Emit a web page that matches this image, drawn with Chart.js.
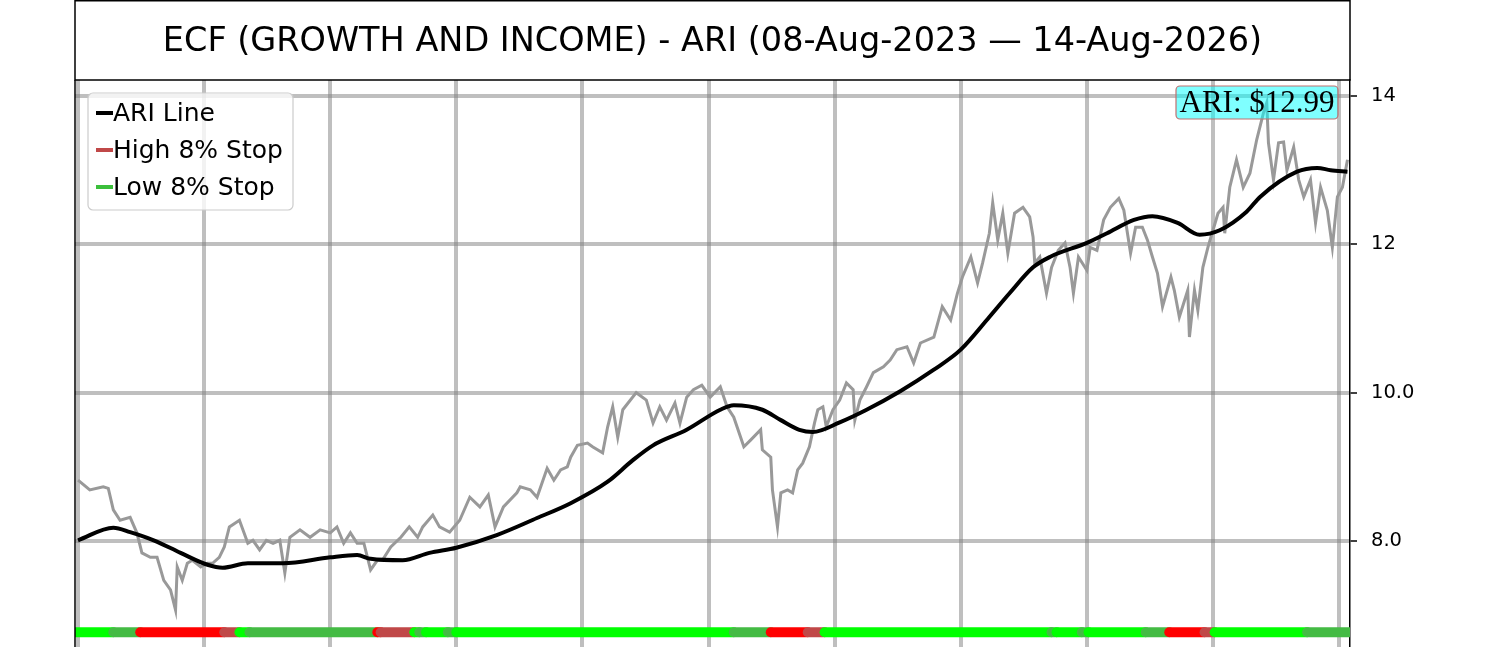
<!DOCTYPE html>
<html lang="en">
<head>
  <meta charset="UTF-8" />
  <title>ECF - ARI</title>
  <script src="https://cdn.jsdelivr.net/npm/chart.js"></script>
  <style>
    body { margin: 0; background: #fff; }
    canvas { display: block; }
  </style>
</head>
<body>
  <canvas id="ariChart" width="1500" height="647"></canvas>

  <script>
    // trading-day index and daily close (sampled off the chart)
    const priceDays = [0,7,15,18,21,25,31,35,38,43,47,51,55,58,59,62,65,68,73,77,80,84,87,90,96,101,104,108,112,116,120,123,126,132,138,144,150,154,158,162,166,170,174,178,181,186,192,197,202,205,211,215,221,227,233,239,244,248,253,261,263,269,273,279,283,287,291,293,297,303,306,312,315,318,321,324,332,338,342,346,350,355,358,362,366,371,376,382,386,390,396,400,406,407,412,413,416,418,422,425,428,431,435,438,440,443,445,449,453,457,461,462,465,469,473,479,483,487,493,497,501,509,514,519,523,526,531,535,538,542,544,547,550,553,557,562,566,568,569,572,576,579,583,587,590,592,595,600,602,606,610,614,619,622,626,629,633,636,639,642,645,650,652,655,660,661,664,666,669,672,675,678,681,682,685,689,693,697,701,705,707,708,711,714,717,719,723,726,729,733,736,739,743,746,749,752,755];
    const priceValues = [8.82,8.69,8.73,8.71,8.42,8.28,8.32,8.11,7.84,7.78,7.78,7.47,7.34,7.07,7.65,7.47,7.70,7.74,7.65,7.70,7.70,7.78,7.92,8.19,8.28,7.97,8.01,7.88,8.01,7.97,8.01,7.57,8.05,8.15,8.05,8.15,8.11,8.19,7.97,8.11,7.97,7.97,7.61,7.74,7.74,7.92,8.05,8.19,8.05,8.19,8.35,8.19,8.12,8.28,8.59,8.46,8.62,8.19,8.46,8.65,8.73,8.69,8.59,8.98,8.82,8.96,9.00,9.13,9.29,9.32,9.27,9.19,9.54,9.81,9.40,9.77,10.00,9.90,9.59,9.81,9.63,9.86,9.59,9.94,10.04,10.10,9.94,10.08,9.81,9.67,9.27,9.36,9.50,9.23,9.13,8.69,8.19,8.65,8.69,8.65,8.96,9.05,9.27,9.59,9.77,9.81,9.54,9.77,9.90,10.13,10.04,9.63,9.90,10.08,10.27,10.35,10.44,10.58,10.62,10.40,10.67,10.75,11.16,10.98,11.34,11.56,11.83,11.48,11.75,12.15,12.56,12.06,12.42,11.88,12.42,12.50,12.37,12.10,11.75,11.83,11.34,11.69,11.92,12.02,11.69,11.34,11.83,11.65,11.96,11.92,12.33,12.50,12.62,12.46,11.88,12.23,12.23,12.06,11.83,11.61,11.16,11.56,11.38,11.02,11.38,10.75,11.38,11.11,11.69,11.96,12.19,12.42,12.50,12.15,12.77,13.14,12.77,12.96,13.41,13.77,13.91,13.37,12.87,13.37,13.38,13.00,13.31,12.87,12.64,12.87,12.29,12.77,12.46,11.96,12.64,12.77,13.14];

    // ARI line (smoothed)
    const ariDays = [0,21,31,45,61,77,86,101,122,150,166,174,193,209,225,249,273,293,315,330,342,362,382,390,407,418,429,437,453,469,489,509,525,542,554,568,578,600,612,628,639,654,667,679,695,703,725,737,745,755];
    const ariValues = [8.01,8.18,8.12,8.01,7.84,7.68,7.64,7.70,7.70,7.78,7.81,7.76,7.74,7.84,7.91,8.08,8.31,8.51,8.80,9.09,9.29,9.50,9.77,9.83,9.77,9.63,9.50,9.47,9.60,9.77,10.02,10.31,10.58,11.02,11.34,11.69,11.83,12.02,12.15,12.33,12.38,12.29,12.13,12.19,12.44,12.64,12.98,13.03,13.00,12.98];

    // stop band: segment boundaries (days) and state of each segment
    const stopBreaks = [-4,21,37,87,96,102,178,180,200,203,207,220,225,390,412,434,444,579,582,597,601,635,649,670,676,731,760];
    const stopStates = ['lime','low','high','highEnd','lime','low','high','highEnd','lime','low','lime','low','lime','low','high','highEnd','lime','low','lime','low','lime','low','high','highEnd','lime','low'];
    const stopLevel = 6.77;
    const stopColors = { lime: '#00ff00', low: '#44bb44', high: '#ff0000', highEnd: '#c04848' };

    const yTicks = [8, 10, 12, 14];
    const yTickLabels = ['8.0', '10.0', '12', '14'];
    const xGridDays = Array.from({ length: 11 }, (_, i) => i * 75);

    const legendLabels = ['ARI Line', 'High 8% Stop', 'Low 8% Stop'];
    const legendColors = ['#000000', '#c04848', '#3cbf3c'];

    const titleText = 'ECF (GROWTH AND INCOME) - ARI (08-Aug-2023 \u2014 14-Aug-2026)';
    const priceLabel = 'ARI: $12.99';

    const gridColor = 'rgba(128,128,128,0.5)';

    const framePlugin = {
      id: 'frame',
      afterDraw(chart) {
        const { ctx, chartArea: a } = chart;
        ctx.save();

        // title box
        ctx.strokeStyle = '#000';
        ctx.lineWidth = 1.5;
        ctx.strokeRect(a.left, 0.75, a.right - a.left, a.top - 0.75);
        ctx.fillStyle = '#000';
        ctx.font = '33.5px "DejaVu Sans"';
        ctx.textAlign = 'center';
        ctx.textBaseline = 'middle';
        ctx.fillText(titleText, (a.left + a.right) / 2, 42);

        // left border of the plot
        ctx.beginPath();
        ctx.moveTo(a.left, a.top);
        ctx.lineTo(a.left, chart.height);
        ctx.stroke();

        // legend
        const lx = a.left + 13, ly = a.top + 13, lw = 205, lh = 117;
        ctx.beginPath();
        ctx.roundRect(lx, ly, lw, lh, 5);
        ctx.fillStyle = 'rgba(255,255,255,0.8)';
        ctx.fill();
        ctx.strokeStyle = '#cccccc';
        ctx.lineWidth = 1.2;
        ctx.stroke();
        ctx.font = '25px "DejaVu Sans"';
        ctx.textAlign = 'left';
        legendLabels.forEach((lab, i) => {
          const yy = ly + 20 + i * 37;
          ctx.strokeStyle = legendColors[i];
          ctx.lineWidth = 4;
          ctx.beginPath();
          ctx.moveTo(lx + 8, yy);
          ctx.lineTo(lx + 25, yy);
          ctx.stroke();
          ctx.fillStyle = '#000';
          ctx.fillText(lab, lx + 25, yy + 1);
        });

        // last value label
        const bx = 1176, by = 86, bw = 162, bh = 33;
        ctx.beginPath();
        ctx.roundRect(bx, by, bw, bh, 4);
        ctx.fillStyle = 'rgba(0,255,255,0.5)';
        ctx.fill();
        ctx.strokeStyle = '#c07070';
        ctx.lineWidth = 1.2;
        ctx.stroke();
        ctx.fillStyle = '#000';
        ctx.font = '31px "Liberation Serif"';
        ctx.textAlign = 'center';
        ctx.fillText(priceLabel, bx + bw / 2, by + bh / 2 + 1);

        ctx.restore();
      }
    };

    const ctx = document.getElementById('ariChart').getContext('2d');
    new Chart(ctx, {
      type: 'line',
      data: {
        datasets: [
          {
            label: 'ARI Line',
            data: ariDays.map((d, i) => ({ x: d, y: ariValues[i] })),
            borderColor: '#000',
            borderWidth: 4,
            cubicInterpolationMode: 'monotone',
            pointRadius: 0
          },
          {
            label: 'Price',
            data: priceDays.map((d, i) => ({ x: d, y: priceValues[i] })),
            borderColor: '#999999',
            borderWidth: 3,
            tension: 0,
            pointRadius: 0
          },
          {
            label: 'Stops',
            data: stopBreaks.map(d => ({ x: d, y: stopLevel })),
            borderColor: '#00ff00',
            borderWidth: 10,
            borderCapStyle: 'round',
            pointRadius: 0,
            segment: {
              borderColor: c => stopColors[stopStates[c.p0DataIndex]]
            }
          }
        ]
      },
      options: {
        responsive: false,
        animation: false,
        devicePixelRatio: 1,
        layout: { padding: { left: 75, top: 80, right: 0, bottom: 0 } },
        plugins: {
          legend: { display: false },
          title: { display: false },
          tooltip: { enabled: false }
        },
        scales: {
          x: {
            type: 'linear',
            min: -1.8,
            max: 756.5,
            afterBuildTicks: s => { s.ticks = xGridDays.map(v => ({ value: v })); },
            afterFit: s => { s.height = 0; s.paddingLeft = 0; s.paddingRight = 0; },
            ticks: { display: false },
            grid: { color: gridColor, lineWidth: 4, drawTicks: false },
            border: { display: false }
          },
          y: {
            position: 'right',
            min: 6.571,
            max: 14.216,
            afterBuildTicks: s => { s.ticks = yTicks.map(v => ({ value: v })); },
            afterFit: s => { s.width = 150; s.paddingTop = 0; s.paddingBottom = 0; },
            ticks: {
              color: '#000',
              padding: 14,
              font: { family: 'DejaVu Sans', size: 19.5 },
              callback: v => yTickLabels[yTicks.indexOf(v)]
            },
            grid: { color: gridColor, lineWidth: 4, tickColor: '#000', tickLength: 7, tickWidth: 1.5 },
            border: { color: '#000', width: 1.5 }
          }
        }
      },
      plugins: [framePlugin]
    });
  </script>
</body>
</html>
